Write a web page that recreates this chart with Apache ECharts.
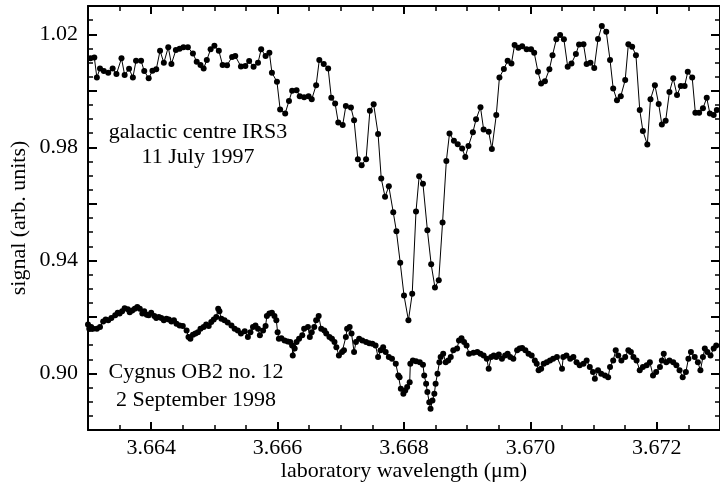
<!DOCTYPE html>
<html><head><meta charset="utf-8">
<script src="https://cdn.jsdelivr.net/npm/echarts@6/dist/echarts.min.js"></script>
<style>html,body{margin:0;padding:0;background:#fff}#c{width:720px;height:487px}</style>
</head><body><div id="c"></div>
<script>
// galactic centre IRS3 (upper trace)
const upperX = [
3.66304,3.66310,3.66314,3.66319,3.66325,3.66332,3.66339,3.66345,3.66353,3.66358,
3.66365,3.66371,3.66376,3.66384,3.66389,3.66396,3.66402,3.66408,3.66414,3.66420,
3.66427,3.66432,3.66439,3.66445,3.66451,3.66458,3.66466,3.66472,3.66478,3.66483,
3.66488,3.66494,3.66500,3.66507,3.66513,3.66520,3.66528,3.66533,3.66542,
3.66549,3.66555,3.66562,3.66569,3.66574,3.66581,3.66587,3.66591,3.66599,3.66604,
3.66612,3.66618,3.66623,3.66630,3.66635,3.66642,3.66649,3.66654,3.66661,3.66666,
3.66673,3.66680,3.66685,3.66691,3.66696,3.66703,3.66708,3.66716,3.66721,3.66727,
3.66733,3.66740,3.66746,3.66752,3.66759,3.66764,3.66770,3.66776,3.66783,3.66788,
3.66794,3.66800,3.66807,3.66813,3.66819,3.66824,3.66830,3.66837,3.66843,3.66849,
3.66855,3.66861,3.66867,3.66872,3.66879,3.66885,3.66892,3.66897,3.66902,3.66909,
3.66914,3.66921,3.66926,3.66934,3.66939,3.66946,3.66951,3.66958,3.66964,3.66970,
3.66975,3.66981,3.66987,3.66994,3.67001,3.67006,3.67012,3.67017,3.67023,3.67030,
3.67035,3.67041,3.67047,3.67053,3.67059,3.67065,3.67072,3.67077,3.67084,3.67089,
3.67095,3.67101,3.67107,3.67113,3.67120,3.67126,3.67131,3.67137,3.67143,3.67150,
3.67155,3.67161,3.67167,3.67173,3.67178,3.67185,3.67190,3.67197,3.67203,3.67208,
3.67214,3.67220,3.67226,3.67232,3.67238,3.67244,3.67249,3.67256,3.67261,3.67267,
3.67273,3.67279,3.67284,3.67290,3.67295];
const upperY = [
1.0115,1.0118,1.0047,1.0079,1.0070,1.0064,1.0079,1.0059,1.0115,1.0056,
1.0078,1.0047,1.0106,1.0106,1.0070,1.0044,1.0071,1.0076,1.0142,1.0099,
1.0154,1.0095,1.0144,1.0149,1.0154,1.0154,1.0132,1.0103,1.0091,1.0079,
1.0109,1.0147,1.0159,1.0142,1.0091,1.0090,1.0120,1.0123,1.0086,
1.0088,1.0105,1.0085,1.0099,1.0147,1.0123,1.0135,1.0064,1.0032,0.9934,
0.9920,0.9964,1.0000,1.0002,0.9981,0.9977,0.9981,0.9970,1.0020,1.0109,
1.0095,1.0079,0.9975,0.9955,0.9888,0.9879,0.9946,0.9941,0.9896,0.9758,
0.9737,0.9758,0.9929,0.9952,0.9847,0.9690,0.9625,0.9662,0.9570,0.9503,
0.9392,0.9276,0.9188,0.9282,0.9573,0.9698,0.9671,0.9507,0.9386,0.9304,
0.9330,0.9534,0.9752,0.9849,0.9823,0.9811,0.9796,0.9766,0.9805,0.9853,
0.9899,0.9942,0.9863,0.9855,0.9794,0.9914,1.0047,1.0077,1.0106,1.0097,
1.0162,1.0152,1.0158,1.0147,1.0147,1.0135,1.0067,1.0026,1.0034,1.0076,
1.0126,1.0182,1.0197,1.0182,1.0085,1.0097,1.0130,1.0164,1.0165,1.0095,
1.0099,1.0081,1.0183,1.0229,1.0209,1.0109,1.0008,0.9967,0.9981,1.0038,
1.0165,1.0156,1.0126,0.9932,0.9858,0.9810,0.9970,1.0020,0.9953,0.9881,
0.9894,0.9996,1.0044,0.9985,1.0017,1.0017,1.0067,1.0047,0.9922,0.9922,
0.9938,0.9975,0.9920,0.9914,0.9932];

// Cygnus OB2 no. 12 (lower trace)
const lowerX = [
3.66300,3.66302,3.66305,3.66308,3.66314,3.66319,3.66324,3.66328,3.66332,3.66337,
3.66343,3.66347,3.66350,3.66354,3.66358,3.66363,3.66366,3.66370,3.66374,3.66378,
3.66382,3.66386,3.66389,3.66393,3.66396,3.66400,3.66405,3.66408,3.66412,3.66416,
3.66420,3.66424,3.66428,3.66432,3.66436,3.66440,3.66445,3.66450,3.66456,3.66459,
3.66462,3.66466,3.66470,3.66474,3.66478,3.66483,3.66487,3.66491,3.66495,3.66499,
3.66503,3.66506,3.66508,3.66511,3.66516,3.66521,3.66527,3.66532,3.66537,3.66542,
3.66548,3.66553,3.66557,3.66561,3.66565,3.66569,3.66572,3.66577,3.66581,3.66583,
3.66587,3.66591,3.66595,3.66598,3.66600,3.66602,3.66606,3.66611,3.66616,3.66620,
3.66623,3.66624,3.66627,3.66630,3.66634,3.66639,3.66642,3.66648,3.66651,3.66654,
3.66658,3.66661,3.66665,3.66669,3.66674,3.66677,3.66682,3.66686,3.66690,3.66693,
3.66697,3.66702,3.66705,3.66708,3.66710,3.66714,3.66717,3.66721,3.66724,3.66729,
3.66734,3.66740,3.66745,3.66750,3.66755,3.66759,3.66763,3.66767,3.66771,3.66776,
3.66781,3.66787,3.66791,3.66793,3.66795,3.66799,3.66802,3.66805,3.66809,3.66810,
3.66814,3.66819,3.66825,3.66830,3.66832,3.66835,3.66837,3.66840,3.66842,3.66845,
3.66848,3.66850,3.66853,3.66856,3.66858,3.66862,3.66866,3.66870,3.66874,3.66878,
3.66884,3.66887,3.66891,3.66895,3.66899,3.66903,3.66910,3.66916,3.66921,3.66926,
3.66931,3.66934,3.66938,3.66942,3.66946,3.66950,3.66955,3.66960,3.66964,3.66968,
3.66973,3.66979,3.66983,3.66987,3.66992,3.66997,3.67002,3.67007,3.67010,3.67013,
3.67017,3.67021,3.67026,3.67031,3.67036,3.67042,3.67050,3.67052,3.67057,3.67063,
3.67068,3.67073,3.67078,3.67084,3.67089,3.67094,3.67099,3.67102,3.67107,3.67112,
3.67118,3.67123,3.67126,3.67131,3.67135,3.67139,3.67144,3.67150,3.67155,3.67159,
3.67163,3.67168,3.67173,3.67178,3.67184,3.67189,3.67194,3.67199,3.67205,3.67208,
3.67211,3.67215,3.67220,3.67226,3.67231,3.67236,3.67241,3.67246,3.67250,3.67254,
3.67260,3.67265,3.67269,3.67273,3.67276,3.67280,3.67285,3.67290,3.67294];
const lowerY = [
0.9173,0.9158,0.9164,0.9158,0.9158,0.9164,0.9184,0.9191,0.9188,0.9196,
0.9206,0.9215,0.9212,0.9220,0.9231,0.9227,0.9217,0.9223,0.9229,0.9235,
0.9229,0.9212,0.9220,0.9208,0.9206,0.9215,0.9203,0.9196,0.9200,0.9196,
0.9188,0.9194,0.9191,0.9184,0.9188,0.9176,0.9170,0.9168,0.9152,0.9129,
0.9123,0.9137,0.9141,0.9146,0.9158,0.9164,0.9173,0.9168,0.9182,0.9191,
0.9200,0.9229,0.9220,0.9194,0.9188,0.9180,0.9170,0.9158,0.9152,0.9141,
0.9149,0.9129,0.9146,0.9164,0.9170,0.9158,0.9135,0.9152,0.9168,0.9203,
0.9212,0.9215,0.9203,0.9188,0.9146,0.9123,0.9125,0.9117,0.9113,0.9111,
0.9099,0.9064,0.9088,0.9111,0.9123,0.9135,0.9158,0.9164,0.9129,0.9146,
0.9164,0.9188,0.9203,0.9158,0.9152,0.9141,0.9129,0.9123,0.9111,0.9093,
0.9064,0.9076,0.9082,0.9129,0.9158,0.9164,0.9141,0.9076,0.9111,0.9123,
0.9117,0.9111,0.9107,0.9105,0.9099,0.9058,0.9082,0.9093,0.9076,0.9058,
0.9052,0.9034,0.8993,0.8987,0.8946,0.8928,0.8940,0.8952,0.8969,0.9034,
0.9046,0.9043,0.9040,0.9031,0.8993,0.8964,0.8934,0.8898,0.8875,0.8904,
0.8928,0.8964,0.8999,0.9040,0.9058,0.9070,0.9040,0.9046,0.9058,0.9082,
0.9088,0.9117,0.9125,0.9111,0.9099,0.9070,0.9073,0.9076,0.9070,0.9064,
0.9052,0.9017,0.9058,0.9064,0.9058,0.9067,0.9052,0.9064,0.9070,0.9058,
0.9052,0.9082,0.9088,0.9090,0.9082,0.9070,0.9064,0.9046,0.9034,0.9011,
0.9017,0.9034,0.9040,0.9046,0.9052,0.9058,0.9017,0.9058,0.9064,0.9052,
0.9058,0.9040,0.9029,0.9034,0.9046,0.9023,0.9005,0.8981,0.9011,0.8999,
0.8993,0.8987,0.9023,0.9046,0.9082,0.9064,0.9046,0.9058,0.9082,0.9076,
0.9058,0.9046,0.9011,0.9023,0.9029,0.9040,0.8993,0.9005,0.9023,0.9046,
0.9070,0.9040,0.9046,0.9040,0.9029,0.9011,0.8987,0.9005,0.9052,0.9076,
0.9058,0.9040,0.9011,0.9058,0.9088,0.9076,0.9064,0.9088,0.9099];

const xMajorTicks = [3.664, 3.666, 3.668, 3.670, 3.672];
const xTickLabels = [3.664, 3.666, 3.668, 3.670, 3.672];
const yMajorTicks = [0.88, 0.90, 0.92, 0.94, 0.96, 0.98, 1.00, 1.02];
const yTickLabels = [0.90, 0.94, 0.98, 1.02];
const annotationLines = [
  ['galactic centre IRS3', '11 July 1997'],
  ['Cygnus OB2 no. 12', '2 September 1998']
];
const xTitle = 'laboratory wavelength (\u03bcm)';
const yTitle = 'signal (arb. units)';

const zip = (xs, ys) => xs.map((x, i) => [x, ys[i]]);
const FONT = '"Liberation Serif", "Times New Roman", serif';
const BLACK = '#000';
const lineSty = { color: BLACK, width: 2 };
const labelSty = { color: BLACK, fontFamily: FONT, fontSize: 22 };
const X_MIN = 3.663, X_MAX = 3.673, Y_MIN = 0.88, Y_MAX = 1.03;

function xAx(pos, major, extra) {
  return Object.assign({
    type: 'value', position: pos, min: X_MIN, max: X_MAX,
    splitLine: { show: false },
    axisLine: { show: !major, lineStyle: lineSty },
    axisTick: major
      ? { show: true, inside: true, length: 8, customValues: xMajorTicks, lineStyle: { color: BLACK, width: 2 } }
      : { show: true, inside: true, length: 5, lineStyle: { color: BLACK, width: 1.5 } },
    axisLabel: { show: false }
  }, major ? {} : { interval: 0.0005 }, extra || {});
}
function yAx(pos, major, extra) {
  return Object.assign({
    type: 'value', position: pos, min: Y_MIN, max: Y_MAX,
    splitLine: { show: false },
    axisLine: { show: !major, lineStyle: lineSty },
    axisTick: major
      ? { show: true, inside: true, length: 9, customValues: yMajorTicks, lineStyle: { color: BLACK, width: 2 } }
      : { show: true, inside: true, length: 5, lineStyle: { color: BLACK, width: 1.5 } },
    axisLabel: { show: false }
  }, major ? {} : { interval: 0.005 }, extra || {});
}

const mkSeries = (name, xs, ys) => ({
  name, type: 'line', data: zip(xs, ys), xAxisIndex: 0, yAxisIndex: 0,
  symbol: 'circle', symbolSize: 6, showSymbol: true, showAllSymbol: true,
  lineStyle: { color: BLACK, width: 1 }, itemStyle: { color: BLACK },
  emphasis: { disabled: true }, animation: false, z: 5
});

const textEl = (t, x, y) => ({
  type: 'text', x, y, z: 10,
  style: { text: t, fill: BLACK, font: '22px ' + FONT, align: 'center', verticalAlign: 'middle', textAlign: 'center', textVerticalAlign: 'middle' }
});

const chart = echarts.init(document.getElementById('c'), null, { renderer: 'canvas' });
chart.setOption({
  animation: false,
  backgroundColor: '#fff',
  grid: { left: 88, top: 6, width: 634, height: 424, containLabel: false },
  xAxis: [
    xAx('bottom', false, {
      name: xTitle, nameLocation: 'middle', nameGap: 30,
      nameTextStyle: { color: BLACK, fontFamily: FONT, fontSize: 22 }
    }),
    xAx('bottom', true, {
      axisLabel: { show: true, customValues: xTickLabels, margin: 7, formatter: v => Number(v).toFixed(3), ...labelSty }
    }),
    xAx('top', false),
    xAx('top', true)
  ],
  yAxis: [
    yAx('left', false, {
      name: yTitle, nameLocation: 'middle', nameGap: 58, nameRotate: 90,
      nameTextStyle: { color: BLACK, fontFamily: FONT, fontSize: 22 }
    }),
    yAx('left', true, {
      axisLabel: { show: true, customValues: yTickLabels, margin: 10, formatter: v => Number(v).toFixed(2), ...labelSty }
    }),
    yAx('right', false),
    yAx('right', true)
  ],
  series: [
    mkSeries('galactic centre IRS3', upperX, upperY),
    mkSeries('Cygnus OB2 no. 12', lowerX, lowerY)
  ],
  graphic: [
    textEl(annotationLines[0][0], 198, 132),
    textEl(annotationLines[0][1], 198, 157),
    textEl(annotationLines[1][0], 196, 372),
    textEl(annotationLines[1][1], 196, 400)
  ]
});
</script>
</body></html>
